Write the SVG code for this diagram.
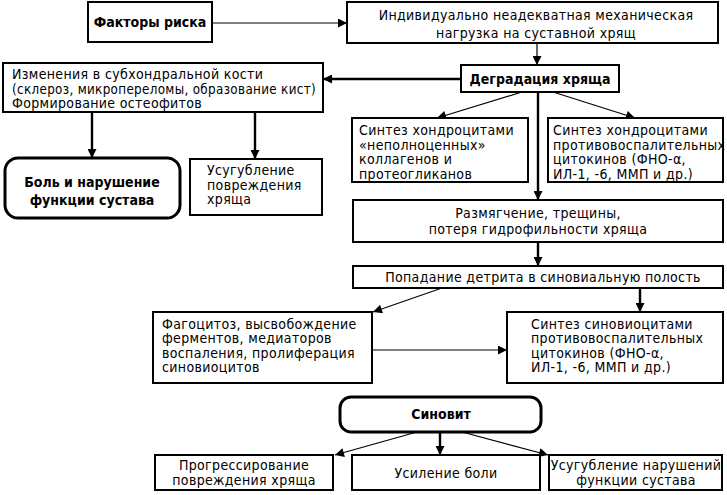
<svg xmlns="http://www.w3.org/2000/svg" width="727" height="495" viewBox="0 0 727 495">
<defs>
<marker id="ah" viewBox="0 0 10 10" refX="10" refY="5" markerWidth="10" markerHeight="9" markerUnits="userSpaceOnUse" orient="auto"><path d="M0,0 L10,5 L0,10 z" fill="#000"/></marker>
</defs>
<style>
.box{fill:#fff;stroke:#000;stroke-width:2}
.rbox{fill:#fff;stroke:#000;stroke-width:3}
.t{font-family:'DejaVu Sans Condensed','DejaVu Sans',sans-serif;font-stretch:condensed;font-size:14px;letter-spacing:0.35px;fill:#000}
.b{font-weight:bold;letter-spacing:0}
.c{text-anchor:middle}
.ln{stroke:#000;stroke-width:1.2;fill:none;marker-end:url(#ah)}
.tk{stroke-width:2.4}
</style>
<rect width="727" height="495" fill="#fff"/>
<g id="connectors">
<line class="ln" x1="212" y1="23" x2="347" y2="23"/>
<line class="ln" x1="537" y1="43" x2="537" y2="65"/>
<line class="ln tk" x1="461" y1="79" x2="323" y2="79"/>
<line class="ln" x1="522" y1="92" x2="437" y2="118"/>
<line class="ln" x1="553" y1="92" x2="635" y2="118"/>
<line class="ln tk" x1="538" y1="92" x2="538" y2="200"/>
<line class="ln tk" x1="92" y1="112" x2="92" y2="158"/>
<line class="ln tk" x1="255" y1="112" x2="255" y2="159"/>
<line class="ln tk" x1="538" y1="242" x2="538" y2="266"/>
<line class="ln" x1="442" y1="288" x2="373" y2="312"/>
<line class="ln tk" x1="640" y1="288" x2="640" y2="312"/>
<line class="ln" x1="372" y1="350" x2="507" y2="350"/>
<line class="ln" x1="417" y1="432" x2="335" y2="455"/>
<line class="ln tk" x1="440" y1="432" x2="440" y2="455"/>
<line class="ln" x1="462" y1="432" x2="548" y2="455"/>
</g>
<g id="n1">
<rect class="box" x="88" y="2" width="124" height="40"/>
<text class="t b c" x="150" y="27">Факторы риска</text>
</g>
<g id="n2">
<rect class="box" x="347" y="2" width="371" height="41"/>
<text class="t c" x="536"><tspan x="536" y="20">Индивидуально неадекватная механическая</tspan><tspan x="536" y="38">нагрузка на суставной хрящ</tspan></text>
</g>
<g id="n3">
<rect class="box" x="461" y="65" width="158" height="27"/>
<text class="t b c" x="540" y="84">Деградация хряща</text>
</g>
<g id="n4">
<rect class="box" x="3" y="63" width="320" height="49"/>
<text class="t"><tspan x="12" y="79">Изменения в субхондральной кости</tspan><tspan x="12" y="93.5" textLength="304" lengthAdjust="spacingAndGlyphs">(склероз, микропереломы, образование кист)</tspan><tspan x="12" y="108">Формирование остеофитов</tspan></text>
</g>
<g id="n5">
<rect class="rbox" x="5" y="158" width="175" height="60" rx="13"/>
<text class="t b c"><tspan x="92" y="187">Боль и нарушение</tspan><tspan x="92" y="205">функции сустава</tspan></text>
</g>
<g id="n6">
<rect class="box" x="190" y="159" width="132" height="56"/>
<text class="t"><tspan x="207" y="175">Усугубление</tspan><tspan x="207" y="189.5">повреждения</tspan><tspan x="207" y="204">хряща</tspan></text>
</g>
<g id="n7">
<rect class="box" x="352" y="118" width="176" height="64"/>
<text class="t"><tspan x="359" y="135">Синтез хондроцитами</tspan><tspan x="359" y="149.5">«неполноценных»</tspan><tspan x="359" y="164">коллагенов и</tspan><tspan x="359" y="178.5">протеогликанов</tspan></text>
</g>
<g id="n8">
<rect class="box" x="548" y="118" width="175" height="64"/>
<text class="t"><tspan x="553" y="135">Синтез хондроцитами</tspan><tspan x="553" y="149.5">противовоспалительных</tspan><tspan x="553" y="164">цитокинов (ФНО-α,</tspan><tspan x="553" y="178.5">ИЛ-1, -6, ММП и др.)</tspan></text>
</g>
<g id="n9">
<rect class="box" x="353" y="200" width="370" height="42"/>
<text class="t c"><tspan x="538" y="218">Размягчение, трещины,</tspan><tspan x="538" y="234">потеря гидрофильности хряща</tspan></text>
</g>
<g id="n10">
<rect class="box" x="353" y="266" width="370" height="22"/>
<text class="t c" x="543" y="282">Попадание детрита в синовиальную полость</text>
</g>
<g id="n11">
<rect class="box" x="153" y="312" width="219" height="71"/>
<text class="t"><tspan x="162" y="328.5">Фагоцитоз, высвобождение</tspan><tspan x="162" y="343">ферментов, медиаторов</tspan><tspan x="162" y="357.5">воспаления, пролиферация</tspan><tspan x="162" y="372">синовиоцитов</tspan></text>
</g>
<g id="n12">
<rect class="box" x="507" y="312" width="216" height="71"/>
<text class="t"><tspan x="531" y="328.5">Синтез синовиоцитами</tspan><tspan x="531" y="343">противовоспалительных</tspan><tspan x="531" y="357.5">цитокинов (ФНО-α,</tspan><tspan x="531" y="372">ИЛ-1, -6, ММП и др.)</tspan></text>
</g>
<g id="n13">
<rect class="rbox" x="340" y="397" width="201" height="35" rx="11"/>
<text class="t b c" x="441" y="419">Синовит</text>
</g>
<g id="n14">
<rect class="box" x="155" y="455" width="178" height="35"/>
<text class="t c"><tspan x="244" y="470">Прогрессирование</tspan><tspan x="244" y="485">повреждения хряща</tspan></text>
</g>
<g id="n15">
<rect class="box" x="352" y="455" width="188" height="35"/>
<text class="t c" x="446" y="478">Усиление боли</text>
</g>
<g id="n16">
<rect class="box" x="549" y="455" width="173" height="35"/>
<text class="t c"><tspan x="636" y="470">Усугубление нарушений</tspan><tspan x="636" y="485">функции сустава</tspan></text>
</g>
</svg>
